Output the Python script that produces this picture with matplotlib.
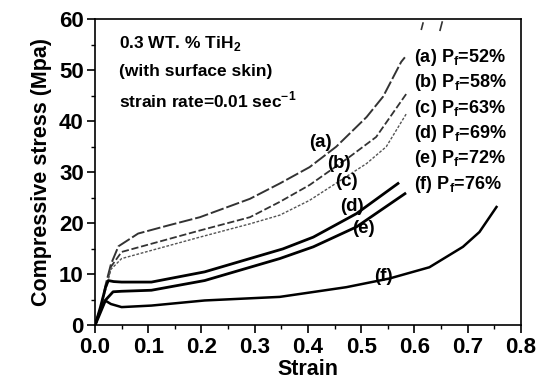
import matplotlib
matplotlib.use("Agg")
import matplotlib.pyplot as plt
from matplotlib.ticker import MultipleLocator

plt.rcParams["font.family"] = ["Liberation Sans", "DejaVu Sans"]
plt.rcParams["font.weight"] = "bold"
plt.rcParams["mathtext.fontset"] = "custom"
plt.rcParams["mathtext.rm"] = "Liberation Sans:bold"
plt.rcParams["mathtext.bf"] = "Liberation Sans:bold"

# curves (strain, compressive stress in MPa)
a_strain = [0, 0.01, 0.02, 0.03, 0.044, 0.081, 0.138, 0.197, 0.291, 0.347, 0.403, 0.453, 0.51, 0.541, 0.575, 0.582]
a_stress = [0, 3, 8, 12, 15.5, 18.0, 19.6, 21.2, 24.8, 27.8, 31.0, 35.0, 40.8, 44.8, 51.6, 52.5]
a_tail_strain = [0.613, 0.616]
a_tail_stress = [58.0, 59.2]

b_strain = [0, 0.01, 0.02, 0.03, 0.05, 0.106, 0.197, 0.291, 0.347, 0.403, 0.478, 0.528, 0.585]
b_stress = [0, 3, 7.5, 11.5, 14.4, 16.0, 18.6, 21.2, 24.2, 27.5, 33.0, 36.9, 45.4]
b_tail_strain = [0.648, 0.652]
b_tail_stress = [57.8, 59.4]

c_strain = [0, 0.01, 0.02, 0.03, 0.05, 0.106, 0.197, 0.291, 0.347, 0.403, 0.51, 0.547, 0.585]
c_stress = [0, 3, 7, 11, 13.1, 14.7, 17.3, 19.9, 21.6, 24.5, 31.7, 35.0, 41.5]

d_strain = [0, 0.01, 0.02, 0.025, 0.035, 0.05, 0.106, 0.206, 0.353, 0.41, 0.491, 0.569]
d_stress = [0, 3.5, 7.5, 8.8, 8.6, 8.5, 8.5, 10.5, 15.0, 17.3, 21.9, 27.8]

e_strain = [0, 0.01, 0.02, 0.034, 0.05, 0.106, 0.206, 0.347, 0.41, 0.491, 0.582]
e_stress = [0, 2.5, 5.0, 6.6, 6.7, 6.9, 8.8, 13.1, 15.4, 19.3, 25.8]

f_strain = [0, 0.008, 0.019, 0.03, 0.05, 0.106, 0.206, 0.347, 0.472, 0.553, 0.628, 0.691, 0.722, 0.754]
f_stress = [0, 2.5, 4.9, 4.2, 3.6, 3.9, 4.9, 5.6, 7.5, 9.2, 11.4, 15.4, 18.3, 23.2]

curve_labels = ["(a)", "(b)", "(c)", "(d)", "(e)", "(f)"]
label_strain = [0.424, 0.458, 0.472, 0.482, 0.505, 0.542]
label_stress = [35.9, 31.7, 28.1, 23.2, 19.0, 9.5]
porosity = [52, 58, 63, 69, 72, 76]

fig = plt.figure(figsize=(5.44, 3.9), dpi=100)
ax = fig.add_axes([0.1746, 0.1654, 0.7831, 0.7859])

ax.plot(a_strain, a_stress, color="#333333", lw=1.4, ls=(0, (7, 1.5)))
ax.plot(a_tail_strain, a_tail_stress, color="#333333", lw=1.2)
ax.plot(b_strain, b_stress, color="#333333", lw=1.3, ls=(0, (4, 1.5)))
ax.plot(b_tail_strain, b_tail_stress, color="#333333", lw=1.2)
ax.plot(c_strain, c_stress, color="#555555", lw=1.0, ls=(0, (2, 1.2)))
ax.plot(d_strain, d_stress, color="black", lw=2.0)
ax.plot(e_strain, e_stress, color="black", lw=2.0)
ax.plot(f_strain, f_stress, color="black", lw=1.8)

for lab, xs, ys in zip(curve_labels, label_strain, label_stress):
    ax.text(xs, ys, lab, fontsize=13.5, fontweight="bold", ha="center", va="center")

ax.text(0.045, 55.3, r"0.3 WT. % TiH$_\mathbf{2}$", fontsize=12.5, fontweight="bold", va="center")
ax.text(0.045, 49.7, "(with surface skin)", fontsize=12.5, fontweight="bold", va="center")
ax.text(0.045, 44.2, r"strain rate=0.01 sec$^\mathbf{-1}$", fontsize=12.5, fontweight="bold", va="center")

for i, (lab, pf) in enumerate(zip(curve_labels, porosity)):
    ax.text(0.600, 52.5 - i * 4.97, lab + r" P$_\mathbf{f}$=" + f"{pf}%",
            fontsize=13, fontweight="bold", va="center")

ax.set_xlim(0, 0.8)
ax.set_ylim(0, 60)
ax.xaxis.set_minor_locator(MultipleLocator(0.05))
ax.yaxis.set_major_locator(MultipleLocator(10))
ax.yaxis.set_minor_locator(MultipleLocator(5))
ax.set_xticks([0, 0.1, 0.2, 0.3, 0.4, 0.5, 0.6, 0.7, 0.8])
ax.set_xticklabels(["0.0", "0.1", "0.2", "0.3", "0.4", "0.5", "0.6", "0.7", "0.8"])
ax.tick_params(which="major", direction="out", length=6, width=1.2, labelsize=16, pad=2)
ax.tick_params(which="minor", direction="out", length=3, width=1.0)
for lab in ax.get_xticklabels() + ax.get_yticklabels():
    lab.set_fontweight("bold")
for sp in ax.spines.values():
    sp.set_linewidth(1.2)

ax.set_xlabel("Strain", fontsize=15.5, fontweight="bold", labelpad=1)
ax.set_ylabel("Compressive stress (Mpa)", fontsize=15.5, fontweight="bold", labelpad=5)

fig.savefig("out.png", dpi=100)
